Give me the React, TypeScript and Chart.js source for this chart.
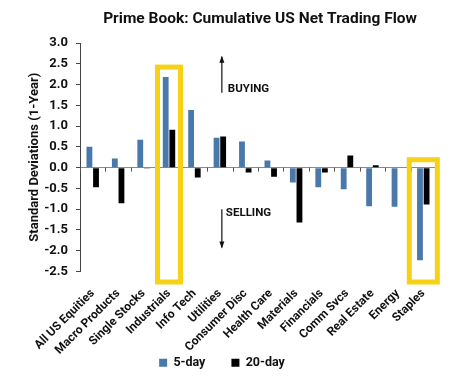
import React, { useEffect, useRef } from "react";
import { Chart, registerables } from "chart.js";

Chart.register(...registerables);

const categories = [
  "All US Equities",
  "Macro Products",
  "Single Stocks",
  "Industrials",
  "Info Tech",
  "Utilities",
  "Consumer Disc",
  "Health Care",
  "Materials",
  "Financials",
  "Comm Svcs",
  "Real Estate",
  "Energy",
  "Staples",
];
const fiveDay = [0.5, 0.22, 0.67, 2.18, 1.39, 0.72, 0.63, 0.17, -0.36, -0.47, -0.52, -0.93, -0.94, -2.23];
const twentyDay = [-0.47, -0.86, -0.01, 0.91, -0.24, 0.75, -0.12, -0.22, -1.32, -0.12, 0.29, 0.06, 0.0, -0.89];
const seriesNames = ["5-day", "20-day"];
const highlighted = ["Industrials", "Staples"];
const titleText = "Prime Book: Cumulative US Net Trading Flow";
const yTitle = "Standard Deviations (1-Year)";

const FONT = "Roboto, 'Liberation Sans', Arial, sans-serif";
const BLUE = "#4A78AA";
const YELLOW = "#F7D116";

const decorPlugin = {
  id: "decor",
  afterDraw(chart: any) {
    const { ctx, chartArea, scales } = chart;
    const xs = scales.x;
    const ys = scales.y;
    const n = categories.length;
    const catW = (chartArea.right - chartArea.left) / n;
    ctx.save();
    // title
    ctx.fillStyle = "#111";
    ctx.font = `bold 15.5px ${FONT}`;
    ctx.textAlign = "center";
    ctx.textBaseline = "middle";
    ctx.fillText(titleText, (chartArea.left + chartArea.right) / 2 + 2, 11);

    // tick marks on zero line
    const y0 = ys.getPixelForValue(0);
    ctx.strokeStyle = "#555";
    ctx.lineWidth = 1;
    for (let i = 0; i <= n; i++) {
      const x = Math.round(chartArea.left + i * catW) + 0.5;
      ctx.beginPath();
      ctx.moveTo(x, y0);
      ctx.lineTo(x, y0 + 4);
      ctx.stroke();
    }

    // yellow highlight boxes
    ctx.strokeStyle = YELLOW;
    ctx.lineWidth = 5;
    highlighted.forEach((name, k) => {
      const idx = categories.indexOf(name);
      const cx = xs.getPixelForValue(idx);
      const half = k === 0 ? 0.55 * catW : 0.65 * catW;
      const topVal = k === 0 ? 2.48 : 0.25;
      const top = ys.getPixelForValue(topVal);
      const bottom = chartArea.bottom + 13;
      ctx.strokeRect(cx - half + 2.5, top + 2.5, 2 * half - 5, bottom - top - 5);
    });

    // buying / selling annotations
    const ax = xs.getPixelForValue(5) + 2;
    ctx.strokeStyle = "#111";
    ctx.fillStyle = "#111";
    ctx.lineWidth = 1.2;
    const arrow = (yFrom: number, yTo: number) => {
      ctx.beginPath();
      ctx.moveTo(ax, yFrom);
      ctx.lineTo(ax, yTo);
      ctx.stroke();
      const dir = yTo > yFrom ? 1 : -1;
      ctx.beginPath();
      ctx.moveTo(ax, yTo + dir * 1);
      ctx.lineTo(ax - 2.5, yTo - dir * 6);
      ctx.lineTo(ax + 2.5, yTo - dir * 6);
      ctx.closePath();
      ctx.fill();
    };
    arrow(ys.getPixelForValue(1.8), ys.getPixelForValue(2.67));
    arrow(ys.getPixelForValue(-1.0), ys.getPixelForValue(-1.92));
    ctx.font = `bold 11.5px ${FONT}`;
    ctx.textAlign = "left";
    ctx.textBaseline = "middle";
    ctx.fillText("BUYING", ax + 6, ys.getPixelForValue(1.88));
    ctx.fillText("SELLING", ax + 4, ys.getPixelForValue(-1.1));
    ctx.restore();
  },
};

export default function App() {
  const ref = useRef<HTMLCanvasElement | null>(null);
  useEffect(() => {
    if (!ref.current) return;
    const chart = new Chart(ref.current, {
      type: "bar",
      data: {
        labels: categories,
        datasets: [
          {
            label: seriesNames[0],
            data: fiveDay,
            backgroundColor: BLUE,
            categoryPercentage: 0.52,
            barPercentage: 0.88,
          },
          {
            label: seriesNames[1],
            data: twentyDay,
            backgroundColor: "#000",
            categoryPercentage: 0.52,
            barPercentage: 0.88,
          },
        ],
      },
      options: {
        animation: false,
        responsive: true,
        maintainAspectRatio: false,
        layout: { padding: { top: 35, right: 26, left: 0, bottom: 0 } },
        plugins: {
          title: { display: false },
          tooltip: { enabled: false },
          legend: {
            position: "bottom",
            labels: {
              boxWidth: 8,
              boxHeight: 8,
              padding: 26,
              color: "#111",
              font: { family: FONT, size: 12.5, weight: "bold" },
            },
          },
        },
        scales: {
          x: {
            afterFit: (s: any) => {
              s.height = 59;
              // let the rotated labels extend into the legend's empty upper band
              s._computeLabelArea = () => undefined;
            },
            grid: { display: false, drawTicks: true, tickLength: 8 },
            border: { display: false },
            ticks: {
              autoSkip: false,
              maxRotation: 45,
              minRotation: 45,
              padding: 7,
              color: "#111",
              font: { family: FONT, size: 12, weight: "bold" },
            },
          },
          y: {
            min: -2.5,
            max: 3.0,
            afterFit: (s: any) => {
              s.width = 72;
            },
            title: {
              display: true,
              text: yTitle,
              color: "#111",
              padding: { top: 19, bottom: 0 },
              font: { family: FONT, size: 13, weight: "bold" },
            },
            border: { display: true, color: "#444", width: 1 },
            grid: {
              drawOnChartArea: true,
              color: (c: any) => (c.tick && c.tick.value === 0 ? "#8a8a8a" : "rgba(0,0,0,0)"),
              tickColor: "#444",
              tickLength: 4,
            },
            ticks: {
              autoSkip: false,
              stepSize: 0.5,
              padding: 8,
              color: "#111",
              font: { family: FONT, size: 13, weight: "bold" },
              callback: (v: any) => Number(v).toFixed(1),
            },
          },
        },
      },
      plugins: [decorPlugin],
    });
    return () => chart.destroy();
  }, []);
  return (
    <div style={{ position: "relative", width: 454, height: 371 }}>
      <canvas ref={ref} />
    </div>
  );
}
